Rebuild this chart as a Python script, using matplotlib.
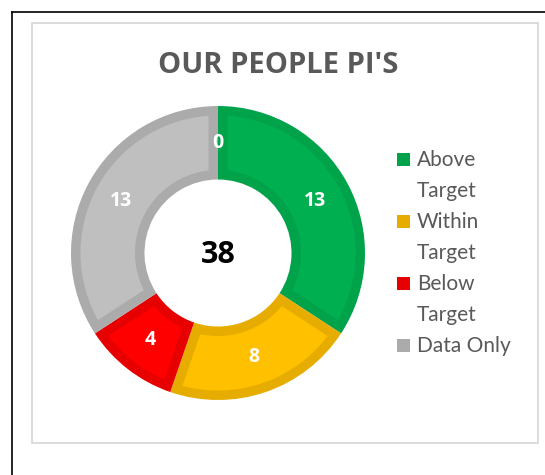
import matplotlib
matplotlib.use("Agg")
import numpy as np
import matplotlib.pyplot as plt
from matplotlib.patches import Rectangle, Polygon
from matplotlib.lines import Line2D

# ---- data ----
categories = ["Above\nTarget", "Within\nTarget", "Below\nTarget", "Data Only", ""]
values = [13, 8, 4, 13, 0]
fill_colors = ["#00B050", "#FFC000", "#FF0000", "#BFBFBF", "#BFBFBF"]
edge_colors = ["#00A24A", "#E6AC00", "#E60000", "#ABABAB", "#ABABAB"]
title = "OUR PEOPLE PI'S"

W, H = 545, 475
fig = plt.figure(figsize=(W / 100, H / 100), dpi=100)
fig.patch.set_facecolor("white")


def fx(x):
    return x / W


def fy(y):
    return 1 - y / H


# outer black frame (left and top visible)
fig.add_artist(Line2D([fx(11.5), fx(11.5)], [fy(12), fy(480)], color="black", lw=1.2))
fig.add_artist(Line2D([fx(11.5), fx(560)], [fy(12), fy(12)], color="black", lw=1.2))
# inner chart-area box
fig.add_artist(Rectangle((fx(32), fy(443)), fx(538) - fx(32), fy(23) - fy(443),
                         transform=fig.transFigure, fill=False, edgecolor="#D9D9D9", lw=1.3))

# donut axes
cx, cy, R = 218, 253, 147
ax = fig.add_axes([fx(cx - R), fy(cy + R), 2 * R / W, 2 * R / H])
total = sum(values)
ring_width = 0.5
wedges, texts, autotexts = ax.pie(
    values, colors=edge_colors, startangle=90, counterclock=False, radius=1,
    wedgeprops=dict(width=ring_width, linewidth=0), pctdistance=0.75,
    autopct=lambda p: f"{round(p * total / 100):d}",
    textprops=dict(color="white", fontsize=14, fontweight="bold", family="Open Sans"))

# inner lighter fill inset from each wedge (Excel-style inner border)
band = 9.5 / R
for w, fc in zip(wedges, fill_colors):
    t1, t2 = w.theta1, w.theta2
    ro = w.r - band
    ri = w.r - w.width + band
    ao = np.degrees(np.arcsin(band / ro))
    ai = np.degrees(np.arcsin(band / ri))
    if (t2 - t1) - 2 * ai <= 0:
        continue
    to = np.radians(np.linspace(t1 + ao, t2 - ao, 80))
    ti = np.radians(np.linspace(t2 - ai, t1 + ai, 80))
    pts = np.concatenate([np.c_[ro * np.cos(to), ro * np.sin(to)],
                          np.c_[ri * np.cos(ti), ri * np.sin(ti)]])
    ax.add_patch(Polygon(pts, closed=True, facecolor=fc, edgecolor="none", zorder=1.5))
for t in autotexts:
    t.set_zorder(3)

ax.set_xlim(-1, 1)
ax.set_ylim(-1, 1)
ax.set_aspect("equal")
ax.axis("off")

ax.text(0, -0.015, f"{total}", ha="center", va="center", fontsize=22, fontweight="bold",
        family="Open Sans", color="black")

# title
fig.text(fx(278), fy(65.5), title, ha="center", va="center", fontsize=21,
         fontweight="bold", family="Open Sans", color="#595959")

# legend (manual)
base_y = 166
step = 62
line_step = 31
for i, (lab, col) in enumerate(zip(categories, edge_colors)):
    if not lab:
        continue
    yb = base_y + i * step
    fig.add_artist(Rectangle((fx(397), fy(yb)), 13 / W, 13 / H, transform=fig.transFigure,
                             facecolor=col, edgecolor="none"))
    for k, line in enumerate(lab.split("\n")):
        fig.text(fx(417), fy(yb + k * line_step), line, ha="left", va="baseline",
                 fontsize=15, family="Lato", color="#595959")

fig.savefig("out.png", dpi=100)
